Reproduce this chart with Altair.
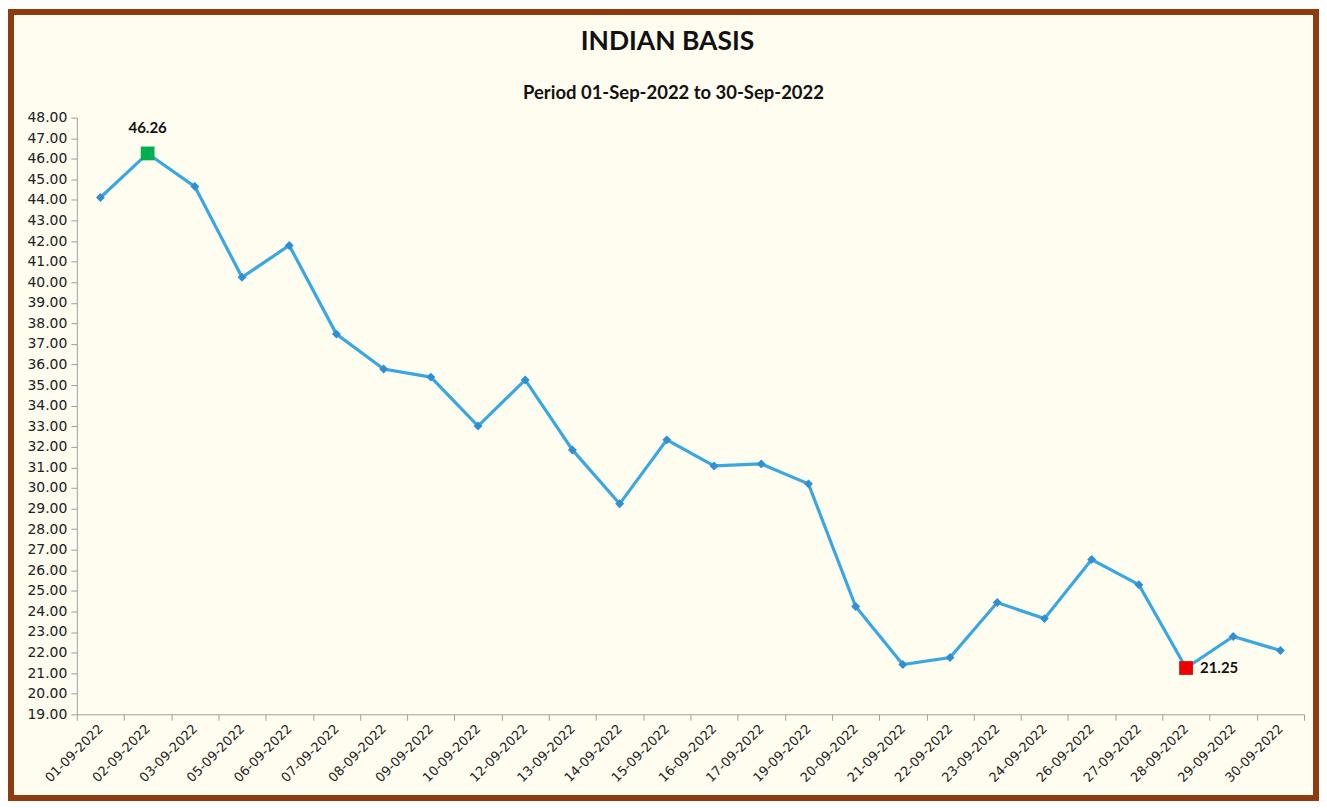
import altair as alt
import pandas as pd

dates = ["01-09-2022", "02-09-2022", "03-09-2022", "05-09-2022", "06-09-2022",
         "07-09-2022", "08-09-2022", "09-09-2022", "10-09-2022", "12-09-2022",
         "13-09-2022", "14-09-2022", "15-09-2022", "16-09-2022", "17-09-2022",
         "19-09-2022", "20-09-2022", "21-09-2022", "22-09-2022", "23-09-2022",
         "24-09-2022", "26-09-2022", "27-09-2022", "28-09-2022", "29-09-2022",
         "30-09-2022"]
values = [44.12, 46.26, 44.65, 40.24, 41.79, 37.48, 35.78, 35.39, 33.01, 35.25,
          31.85, 29.23, 32.34, 31.07, 31.17, 30.20, 24.24, 21.42, 21.76, 24.43,
          23.65, 26.52, 25.30, 21.25, 22.78, 22.10]

title_text = "INDIAN BASIS"
subtitle_text = "Period 01-Sep-2022 to 30-Sep-2022"

y_min, y_max = 19, 48
y_ticks = list(range(19, 49))

df = pd.DataFrame({"date": dates, "v": values})

W, H = 1230, 598
PAD = {"left": 69, "top": 109, "right": 15, "bottom": 87}

xenc = alt.X("date:N", sort=dates, title=None,
             scale=alt.Scale(type="band", paddingInner=0, paddingOuter=0),
             axis=alt.Axis(labelAngle=-45, labelAlign="right", labelBaseline="middle",
                           labelFont="DejaVu Sans", labelFontSize=13, labelColor="#222222",
                           tickBand="extent", tickSize=6, tickColor="#A0A0A0",
                           domainColor="#A0A0A0", labelPadding=6, grid=False))
yenc = alt.Y("v:Q", title=None,
             scale=alt.Scale(domain=[y_min, y_max], nice=False, zero=False),
             axis=alt.Axis(values=y_ticks, format=".2f", labelFont="DejaVu Sans",
                           labelFontSize=14, labelColor="#222222", tickSize=6,
                           tickColor="#A0A0A0", domainColor="#A0A0A0", grid=False,
                           labelPadding=4))

base = alt.Chart(df)

line = base.mark_line(color="#3AA8E0", strokeWidth=3.2).encode(x=xenc, y=yenc)
pts = base.mark_point(shape="diamond", filled=True, size=80, color="#2F8FD2",
                      opacity=1).encode(x=xenc, y=yenc)

ext = base.transform_joinaggregate(vmax="max(v)", vmin="min(v)")
maxp = ext.transform_filter("datum.v == datum.vmax")
minp = ext.transform_filter("datum.v == datum.vmin")

max_mark = maxp.mark_square(size=190, color="#00B050", opacity=1).encode(x=xenc, y=yenc)
min_mark = minp.mark_square(size=190, color="#EE0000", opacity=1).encode(x=xenc, y=yenc)
max_lbl = maxp.mark_text(dy=-26, font="Lato", fontWeight="bold", fontSize=15,
                         color="#111111").encode(x=xenc, y=yenc, text=alt.Text("v:Q", format=".2f"))
min_lbl = minp.mark_text(dx=14, align="left", font="Lato", fontWeight="bold", fontSize=15,
                         color="#111111").encode(x=xenc, y=yenc, text=alt.Text("v:Q", format=".2f"))

one = alt.Chart(pd.DataFrame({"t": [title_text], "s": [subtitle_text]}))
title_mark = one.mark_text(font="Lato", fontWeight="bold", fontSize=26.5, color="#111111",
                           align="center", baseline="middle").encode(
    x=alt.value(592), y=alt.value(-76), text="t:N")
subtitle_mark = one.mark_text(font="Lato", fontWeight="bold", fontSize=18.5, color="#111111",
                              align="center", baseline="middle").encode(
    x=alt.value(598), y=alt.value(-25), text="s:N")

frame = one.mark_rect(fill=None, stroke="#8E3B10", strokeWidth=6, clip=False).encode(
    x=alt.value(-PAD["left"] + 3), x2=alt.value(W + PAD["right"] - 3),
    y=alt.value(-PAD["top"] + 3), y2=alt.value(H + PAD["bottom"] - 3))

chart = alt.layer(line, pts, max_mark, min_mark, max_lbl, min_lbl,
                  title_mark, subtitle_mark, frame).properties(
    width=W, height=H,
    autosize=alt.AutoSizeParams(type="none"),
    padding=PAD,
    background="#FFFCF0",
).configure_view(stroke=None, fill="#FFFCF0")

chart.save("out.html", embed_options={"renderer": "svg", "actions": False})
